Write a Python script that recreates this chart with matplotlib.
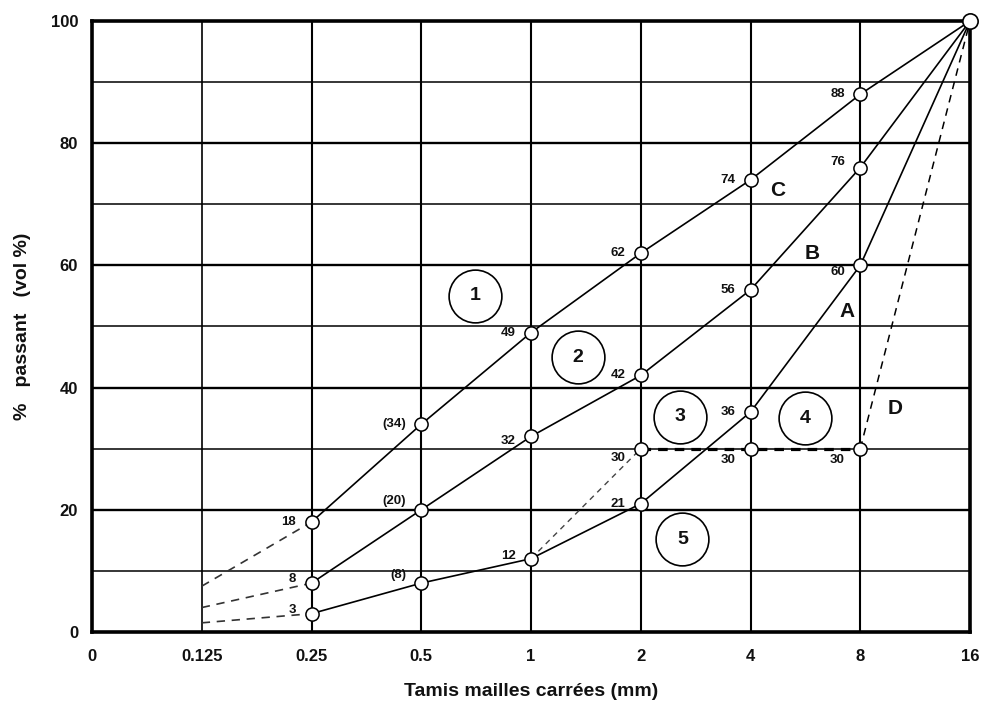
import matplotlib.pyplot as plt

plt.rcParams['font.family'] = ['Liberation Sans', 'DejaVu Sans']

# tamis (mm), placés à intervalles réguliers
tamis = ['0', '0.125', '0.25', '0.5', '1', '2', '4', '8', '16']

# courbes granulométriques : valeurs mesurées de 0.25 à 16 mm
idx_mes = [2, 3, 4, 5, 6, 7, 8]
courbe_C = [18, 34, 49, 62, 74, 88, 100]
courbe_B = [8, 20, 32, 42, 56, 76, 100]
courbe_A = [3, 8, 12, 21, 36, 60, 100]
# prolongement en pointillés vers 0.125 mm
extrap_C = [7.5, 18]
extrap_B = [4, 8]
extrap_A = [1.5, 3]
# courbe D (discontinue)
idx_D = [4, 5, 6, 7, 8]
courbe_D = [12, 30, 30, 30, 100]

# étiquettes des points : (indice, valeur, texte, décalage)
etiquettes = [
    (2, 18, '18', (-5, 0)), (2, 8, '8', (-5, 3)), (2, 3, '3', (-5, 3)),
    (3, 34, '(34)', (-5, 0)), (3, 20, '(20)', (-5, 6)), (3, 8, '(8)', (-5, 6)),
    (4, 49, '49', (-5, 0)), (4, 32, '32', (-5, -3)), (4, 12, '12', (-5, 2)),
    (5, 62, '62', (-5, 0)), (5, 42, '42', (-5, 0)), (5, 30, '30', (-5, -7)),
    (5, 21, '21', (-5, 0)),
    (6, 74, '74', (-5, 0)), (6, 56, '56', (-5, 0)), (6, 36, '36', (-5, 0)),
    (6, 30, '30', (-5, -8)),
    (7, 88, '88', (-5, 0)), (7, 76, '76', (-5, 4)), (7, 60, '60', (-5, -5)),
    (7, 30, '30', (-5, -8)),
]
zones = [('1', 3.49, 55), ('2', 4.43, 45), ('3', 5.36, 35.2), ('4', 6.5, 35), ('5', 5.38, 15.2)]
lettres = [('C', 6.25, 72.3), ('B', 6.56, 62), ('A', 6.88, 52.4), ('D', 7.32, 36.5)]

fig = plt.figure(figsize=(9.85, 7.09), dpi=100)
ax = fig.add_axes([0.0934, 0.1086, 0.8914, 0.8618])
encre = '#111111'

# quadrillage
for i in range(len(tamis)):
    ax.axvline(i, color='black', lw=1.5 if i != 1 else 1.2, zorder=1)
for v in range(10, 100, 10):
    ax.axhline(v, color='black', lw=1.7 if v % 20 == 0 else 1.1, zorder=1)

mk = dict(marker='o', ms=9.5, mfc='white', mec='black', mew=1.1)

for ext in (extrap_C, extrap_B, extrap_A):
    ax.plot([1, 2], ext, color='#333333', lw=1.2, ls=(0, (5, 4)), zorder=2)

for y in (courbe_C, courbe_B, courbe_A):
    ax.plot(idx_mes, y, color='black', lw=1.2, zorder=3)

ax.plot(idx_D[:2], courbe_D[:2], color='#444444', lw=1.0, ls=(0, (4, 3.5)), zorder=2)
ax.plot(idx_D[1:4], courbe_D[1:4], color='black', lw=2.3, ls=(0, (3, 2.2)), zorder=2)
ax.plot(idx_D[3:], courbe_D[3:], color='black', lw=1.1, ls=(0, (5, 4)), zorder=2)

for y in (courbe_C, courbe_B, courbe_A):
    ax.plot(idx_mes[:-1], y[:-1], ls='none', zorder=5, **mk)
ax.plot(idx_mes[-1], courbe_C[-1], ls='none', zorder=8, clip_on=False,
        marker='o', ms=11, mfc='white', mec='black', mew=1.2)
ax.plot(idx_D[1:4], courbe_D[1:4], ls='none', zorder=5, **mk)

for i, v, t, off in etiquettes:
    ax.annotate(t, (i, v), xytext=(off[0] - 6, off[1]), textcoords='offset points',
                ha='right', va='center', fontsize=9.5, fontweight='bold', color=encre, zorder=6)

for t, x, y in zones:
    ax.plot(x, y, marker='o', ms=38, mfc='white', mec='black', mew=1.2, zorder=4)
    ax.text(x, y, t, ha='center', va='center', fontsize=14, fontweight='bold', color=encre, zorder=6)

for t, x, y in lettres:
    ax.text(x, y, t, ha='center', va='center', fontsize=15, fontweight='bold', color=encre, zorder=6)

ax.set_xlim(0, len(tamis) - 1)
ax.set_ylim(0, 100)
ax.set_xticks(range(len(tamis)))
ax.set_xticklabels(tamis)
ax.set_yticks(range(0, 101, 20))
ax.tick_params(axis='x', length=0, pad=12, labelsize=12, labelcolor=encre)
ax.tick_params(axis='y', length=0, pad=10, labelsize=12, labelcolor=encre)
for lab in ax.get_xticklabels() + ax.get_yticklabels():
    lab.set_fontweight('bold')
for s in ax.spines.values():
    s.set_linewidth(2.6)
    s.set_zorder(7)

ax.set_xlabel('Tamis mailles carrées (mm)', fontsize=14, fontweight='bold', color=encre, labelpad=14)
ax.set_ylabel('%   passant   (vol %)', fontsize=14, fontweight='bold', color=encre, labelpad=14)

fig.savefig('out.png', dpi=100)
